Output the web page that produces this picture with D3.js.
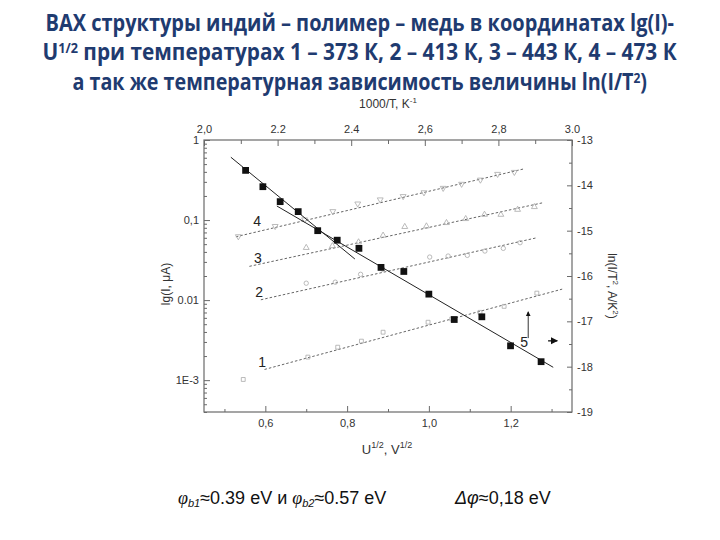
<!DOCTYPE html>
<html><head><meta charset="utf-8">
<script src="https://cdn.jsdelivr.net/npm/d3@7"></script>
<style>body{margin:0;background:#fff}svg{display:block}</style>
</head><body>
<svg id="c" width="720" height="540"></svg>
<script>
// ---- text ----
const titleLine1 = "ВАХ структуры индий – полимер – медь в координатах lg(I)-";
const titleLine2a = "U", titleLine2sup = "1/2", titleLine2b = " при температурах 1 – 373 К, 2 – 413 К, 3 – 443 К, 4 – 473 К";
const titleLine3a = "а так же температурная зависимость величины ln(I/T", titleLine3sup = "2", titleLine3b = ")";

// ---- axis ticks ----
const uTicks = [0.6, 0.8, 1.0, 1.2];
const uTickLabels = ["0,6", "0,8", "1,0", "1,2"];
const uMinor = [0.5, 0.7, 0.9, 1.1, 1.3];
const iTicks = [1, 0.1, 0.01, 0.001];
const iTickLabels = ["1", "0,1", "0.01", "1E-3"];
const tTicks = [2.0, 2.2, 2.4, 2.6, 2.8, 3.0];
const tTickLabels = ["2,0", "2.2", "2.4", "2,6", "2,8", "3.0"];
const tMinor = [2.1, 2.3, 2.5, 2.7, 2.9];
const lnTicks = [-13, -14, -15, -16, -17, -18, -19];
const lnMinor = [-13.5, -14.5, -15.5, -16.5, -17.5, -18.5];

// ---- series 1-4: U^1/2 (V^1/2) vs I (μA) ----
const u4 = [0.534, 0.624, 0.696, 0.765, 0.826, 0.881, 0.937, 0.988, 1.035, 1.080, 1.126, 1.168, 1.209];
const i4 = [0.0624, 0.0838, 0.1014, 0.1285, 0.160, 0.180, 0.198, 0.221, 0.251, 0.282, 0.318, 0.375, 0.397];
const u3 = [0.700, 0.764, 0.828, 0.888, 0.941, 0.994, 1.043, 1.090, 1.136, 1.176, 1.217, 1.258];
const i3 = [0.0451, 0.0475, 0.0530, 0.0642, 0.0824, 0.0838, 0.0923, 0.1035, 0.117, 0.117, 0.135, 0.146];
const u2 = [0.700, 0.771, 0.833, 0.887, 1.002, 1.047, 1.094, 1.137, 1.182, 1.223];
const i2 = [0.01626, 0.01675, 0.0210, 0.0243, 0.0345, 0.0355, 0.0362, 0.0410, 0.0443, 0.0521];
const u1 = [0.546, 0.704, 0.777, 0.835, 0.888, 0.998, 1.056, 1.125, 1.184, 1.264];
const i1 = [0.00102, 0.00194, 0.00258, 0.00307, 0.00397, 0.00529, 0.00581, 0.00703, 0.00835, 0.01222];
// fitted dashed lines (end points)
const fitU4 = [0.528, 1.233], fitI4 = [0.0618, 0.4365];
const fitU3 = [0.561, 1.280], fitI3 = [0.0264, 0.165];
const fitU2 = [0.589, 1.264], fitI2 = [0.01009, 0.0601];
const fitU1 = [0.598, 1.326], fitI1 = [0.00136, 0.01371];

// ---- series 5: 1000/T vs ln(I/T^2) ----
const t5 = [2.113, 2.160, 2.207, 2.256, 2.309, 2.362, 2.421, 2.481, 2.543, 2.611, 2.680, 2.755, 2.833, 2.916];
const ln5 = [-13.67, -14.03, -14.36, -14.58, -15.00, -15.21, -15.39, -15.81, -15.90, -16.40, -16.96, -16.90, -17.54, -17.89];
const fitT5a = [2.073, 2.410], fitLn5a = [-13.38, -15.625];
const fitT5b = [2.198, 2.949], fitLn5b = [-14.456, -18.014];

// curve number labels (data coordinates of bottom/left axes)
const curveLabels = ["4", "3", "2", "1", "5"];
const curveLabelU = [0.580, 0.582, 0.585, 0.592, 1.233];
const curveLabelI = [0.097, 0.0336, 0.0126, 0.00169, 0.0030];
// arrow annotation (top/right axes)
const arrowT = [2.881, 2.881], arrowLn = [-17.37, -16.79];
const arrow2T = [2.935, 2.960], arrow2Ln = [-17.43, -17.43];

// ---- drawing ----
const svg = d3.select("#c");
const L = 204, R = 572, T = 140, B = 412;
const xU = d3.scaleLinear().domain([0.45, 1.35]).range([L, R]);
const yI = d3.scaleLog().domain([4e-4, 1]).range([B, T]);
const xT = d3.scaleLinear().domain([2.0, 3.0]).range([L, R]);
const yLn = d3.scaleLinear().domain([-19, -13]).range([B, T]);

const navy = "#1f3b70";
const tf = "'Open Sans', 'Noto Sans', sans-serif";
const af = "'Liberation Sans', Arial, sans-serif";

// Title (scaled horizontally to the reference width, like a narrow font)
function titleLine(y, parts, width) {
  const t = svg.append("text").attr("x", 0).attr("y", 0)
    .attr("font-family", tf).attr("font-weight", 700).attr("font-size", 23).attr("fill", navy);
  parts.forEach(p => {
    const s = t.append("tspan").text(p.s);
    if (p.sup) s.attr("font-size", 14).attr("dy", -7);
    if (p.down) s.attr("dy", 7);
  });
  const w = t.node().getBBox().width;
  t.attr("transform", `translate(${360 - width / 2},${y}) scale(${width / w},1)`);
}
titleLine(31, [{s: titleLine1}], 629);
titleLine(60, [{s: titleLine2a}, {s: titleLine2sup, sup: true}, {s: titleLine2b, down: true}], 635);
titleLine(90, [{s: titleLine3a}, {s: titleLine3sup, sup: true}, {s: titleLine3b, down: true}], 575);

const axisColor = "#6a6a6a";
function styleAxis(g) {
  g.select(".domain").remove();
  g.selectAll(".tick line").attr("stroke", axisColor);
  g.selectAll(".tick text").attr("fill", "#333").attr("font-family", af).attr("font-size", 11);
}

// frame
svg.append("rect").attr("x", L).attr("y", T).attr("width", R - L).attr("height", B - T)
  .attr("fill", "none").attr("stroke", axisColor).attr("stroke-width", 1.2);

// bottom
svg.append("g").attr("transform", `translate(0,${B})`)
  .call(d3.axisBottom(xU).tickValues(uTicks).tickFormat((d, i) => uTickLabels[i]).tickSizeInner(-6).tickSizeOuter(0).tickPadding(7)).call(styleAxis);
svg.append("g").attr("transform", `translate(0,${B})`)
  .call(d3.axisBottom(xU).tickValues(uMinor).tickFormat("").tickSizeInner(-3).tickSizeOuter(0)).call(styleAxis);
// left
const iMinor = [];
[1e-4, 1e-3, 1e-2, 1e-1].forEach(dec => { for (let k = 2; k <= 9; k++) { const v = dec * k; if (v >= 4e-4 && v < 1) iMinor.push(v); } });
svg.append("g").attr("transform", `translate(${L},0)`)
  .call(d3.axisLeft(yI).tickValues(iTicks).tickFormat((d, i) => iTickLabels[i]).tickSizeInner(-6).tickSizeOuter(0).tickPadding(5)).call(styleAxis);
svg.append("g").attr("transform", `translate(${L},0)`)
  .call(d3.axisLeft(yI).tickValues(iMinor).tickFormat("").tickSizeInner(-3).tickSizeOuter(0)).call(styleAxis);
// top
svg.append("g").attr("transform", `translate(0,${T})`)
  .call(d3.axisTop(xT).tickValues(tTicks).tickFormat((d, i) => tTickLabels[i]).tickSizeInner(-6).tickSizeOuter(0).tickPadding(7)).call(styleAxis);
svg.append("g").attr("transform", `translate(0,${T})`)
  .call(d3.axisTop(xT).tickValues(tMinor).tickFormat("").tickSizeInner(-4).tickSizeOuter(0)).call(styleAxis);
// right
svg.append("g").attr("transform", `translate(${R},0)`)
  .call(d3.axisRight(yLn).tickValues(lnTicks).tickFormat(d => String(d)).tickSizeInner(-5).tickSizeOuter(0).tickPadding(5)).call(styleAxis);
svg.append("g").attr("transform", `translate(${R},0)`)
  .call(d3.axisRight(yLn).tickValues(lnMinor).tickFormat("").tickSizeInner(-3).tickSizeOuter(0)).call(styleAxis);

// axis titles
const topTitle = svg.append("text").attr("x", 388).attr("y", 108).attr("text-anchor", "middle")
  .attr("font-family", af).attr("font-size", 12).attr("fill", "#333");
topTitle.append("tspan").text("1000/T, K");
topTitle.append("tspan").text("-1").attr("font-size", 8).attr("dy", -5);

const botTitle = svg.append("text").attr("x", 387).attr("y", 454).attr("text-anchor", "middle")
  .attr("font-family", af).attr("font-size", 13).attr("fill", "#333");
botTitle.append("tspan").text("U");
botTitle.append("tspan").text("1/2").attr("font-size", 9).attr("dy", -6);
botTitle.append("tspan").text(", V").attr("dy", 6);
botTitle.append("tspan").text("1/2").attr("font-size", 9).attr("dy", -6);

const leftTitle = svg.append("text").attr("transform", "translate(170,284) rotate(-90)").attr("text-anchor", "middle")
  .attr("font-family", af).attr("font-size", 12).attr("fill", "#333");
leftTitle.text("lg(I, μA)");

const rightTitle = svg.append("text").attr("transform", "translate(608,286) rotate(90)").attr("text-anchor", "middle")
  .attr("font-family", af).attr("font-size", 12).attr("fill", "#333");
rightTitle.append("tspan").text("ln(I/T");
rightTitle.append("tspan").text("2").attr("font-size", 8).attr("dy", -5);
rightTitle.append("tspan").text(", A/K").attr("dy", 5);
rightTitle.append("tspan").text("2").attr("font-size", 8).attr("dy", -5);
rightTitle.append("tspan").text(")").attr("dy", 5);

// dashed fit lines (series 1-4)
const lineUI = d3.line().x(d => xU(d[0])).y(d => yI(d[1]));
[[fitU4, fitI4], [fitU3, fitI3], [fitU2, fitI2], [fitU1, fitI1]].forEach(([us, is]) => {
  svg.append("path").datum(us.map((u, k) => [u, is[k]])).attr("d", lineUI)
    .attr("fill", "none").attr("stroke", "#666").attr("stroke-width", 1).attr("stroke-dasharray", "2.5,2");
});

// open symbols
const series = [
  {u: u4, i: i4, sym: d3.symbolTriangle, rot: 180},
  {u: u3, i: i3, sym: d3.symbolTriangle, rot: 0},
  {u: u2, i: i2, sym: d3.symbolCircle, rot: 0},
  {u: u1, i: i1, sym: d3.symbolSquare, rot: 0}
];
series.forEach(s => {
  svg.append("g").selectAll("path").data(s.u.map((u, k) => [u, s.i[k]])).join("path")
    .attr("d", d3.symbol().type(s.sym).size(15))
    .attr("transform", d => `translate(${xU(d[0])},${yI(d[1])}) rotate(${s.rot})`)
    .attr("fill", "none").attr("stroke", "#aaa").attr("stroke-width", 0.8);
});

// series 5 lines and squares
const lineTL = d3.line().x(d => xT(d[0])).y(d => yLn(d[1]));
[[fitT5a, fitLn5a], [fitT5b, fitLn5b]].forEach(([ts, ls]) => {
  svg.append("path").datum(ts.map((t, k) => [t, ls[k]])).attr("d", lineTL)
    .attr("fill", "none").attr("stroke", "#222").attr("stroke-width", 1);
});
svg.append("g").selectAll("path").data(t5.map((t, k) => [t, ln5[k]])).join("path")
  .attr("d", d3.symbol().type(d3.symbolSquare).size(46))
  .attr("transform", d => `translate(${xT(d[0])},${yLn(d[1])})`)
  .attr("fill", "#111");

// curve number labels
svg.append("g").selectAll("text").data(curveLabels).join("text")
  .attr("x", (d, k) => xU(curveLabelU[k])).attr("y", (d, k) => yI(curveLabelI[k]))
  .attr("text-anchor", "middle").attr("dominant-baseline", "central")
  .attr("font-family", af).attr("font-size", 14).attr("fill", "#222").text(d => d);

// arrows
const defs = svg.append("defs");
defs.append("marker").attr("id", "ah").attr("viewBox", "0 0 10 10").attr("refX", 9).attr("refY", 5)
  .attr("markerWidth", 5).attr("markerHeight", 7).attr("orient", "auto")
  .append("path").attr("d", "M0,0 L10,5 L0,10 Z").attr("fill", "#111");
svg.append("path").datum(arrowT.map((t, k) => [t, arrowLn[k]])).attr("d", lineTL)
  .attr("stroke", "#333").attr("stroke-width", 1).attr("fill", "none").attr("marker-end", "url(#ah)");
svg.append("path").datum(arrow2T.map((t, k) => [t, arrow2Ln[k]])).attr("d", lineTL)
  .attr("stroke", "#333").attr("stroke-width", 1.5).attr("fill", "none").attr("marker-end", "url(#ah)");

// bottom formulas
const f1 = svg.append("text").attr("x", 178).attr("y", 504).attr("font-family", af).attr("font-size", 18).attr("fill", "#111");
f1.append("tspan").text("φ").attr("font-style", "italic").attr("font-family", "'Liberation Serif', serif");
f1.append("tspan").text("b1").attr("font-style", "italic").attr("font-size", 11).attr("dy", 3);
f1.append("tspan").text("≈0.39 eV и ").attr("dy", -3);
f1.append("tspan").text("φ").attr("font-style", "italic").attr("font-family", "'Liberation Serif', serif");
f1.append("tspan").text("b2").attr("font-style", "italic").attr("font-size", 11).attr("dy", 3);
f1.append("tspan").text("≈0.57 eV").attr("dy", -3);

const f2 = svg.append("text").attr("x", 455).attr("y", 504).attr("font-family", af).attr("font-size", 18).attr("fill", "#111");
f2.append("tspan").text("Δφ").attr("font-style", "italic");
f2.append("tspan").text("≈0,18 eV");
</script>
</body></html>
